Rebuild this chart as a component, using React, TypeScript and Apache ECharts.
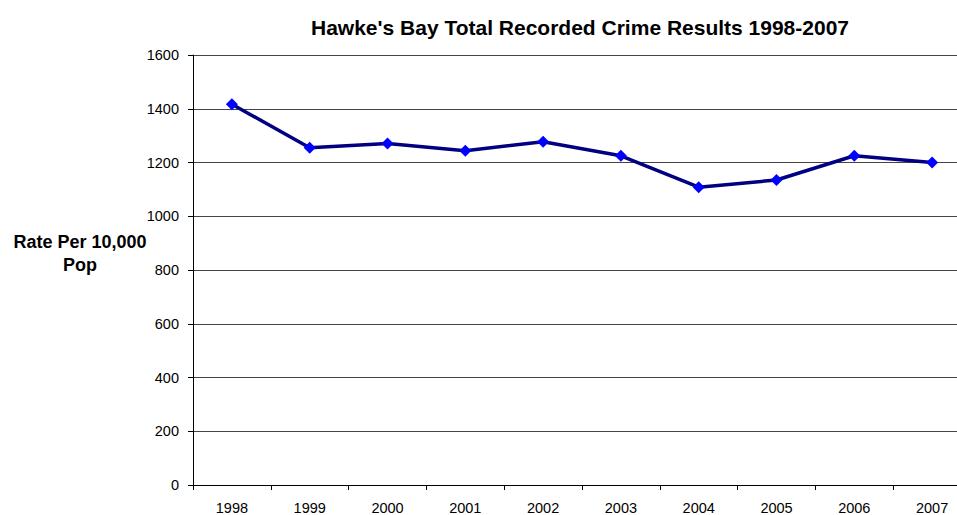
import React, { useEffect, useRef } from "react";
import * as echarts from "echarts";

const years = ["1998", "1999", "2000", "2001", "2002", "2003", "2004", "2005", "2006", "2007"];
const crimeRate = [1417, 1255, 1271, 1244, 1277, 1225, 1108, 1135, 1225, 1200];
const titleText = "Hawke's Bay Total Recorded Crime Results 1998-2007";
const yAxisTitleLines = ["Rate Per 10,000", "Pop"];

const FONT = "'Liberation Sans', Arial, sans-serif";

export default function App() {
  const ref = useRef<HTMLDivElement>(null);
  useEffect(() => {
    if (!ref.current) return;
    const chart = echarts.init(ref.current, null, { renderer: "svg" });
    chart.setOption({
      animation: false,
      backgroundColor: "#ffffff",
      title: {
        text: titleText,
        left: 575,
        top: 12,
        textAlign: "center",
        textStyle: { fontFamily: FONT, fontSize: 21, fontWeight: "bold", color: "#000" },
      },
      graphic: yAxisTitleLines.map((t, i) => ({
        type: "text",
        x: 80,
        y: 242 + i * 23,
        style: {
          text: t,
          fontFamily: FONT,
          fontSize: 18,
          fontWeight: "bold",
          fill: "#000",
          align: "center",
          verticalAlign: "middle",
        },
      })),
      grid: { left: 193, width: 778, top: 55, height: 430, containLabel: false },
      xAxis: {
        type: "category",
        data: years,
        boundaryGap: true,
        axisLine: { lineStyle: { color: "#000", width: 1 } },
        axisTick: { show: true, length: 5, lineStyle: { color: "#000" } },
        axisLabel: { fontFamily: FONT, fontSize: 14.5, color: "#000", margin: 15 },
        splitLine: { show: false },
      },
      yAxis: {
        type: "value",
        min: 0,
        max: 1600,
        interval: 200,
        axisLine: { show: true, lineStyle: { color: "#000", width: 1 } },
        axisTick: { show: true, length: 5, lineStyle: { color: "#000" } },
        axisLabel: {
          fontFamily: FONT,
          fontSize: 14.5,
          color: "#000",
          margin: 14,
          formatter: (v: number) => String(v),
        },
        splitLine: { show: true, lineStyle: { color: "#444", width: 1 } },
      },
      series: [
        {
          type: "line",
          data: crimeRate,
          symbol: "diamond",
          symbolSize: 12,
          lineStyle: { color: "#000080", width: 3.5 },
          itemStyle: { color: "#0000ff" },
        },
      ],
    });
    return () => chart.dispose();
  }, []);
  return (
    <div style={{ width: 957, height: 515, position: "absolute", left: 0, top: 0, overflow: "hidden" }}>
      <div ref={ref} style={{ width: 1000, height: 515 }} />
    </div>
  );
}
